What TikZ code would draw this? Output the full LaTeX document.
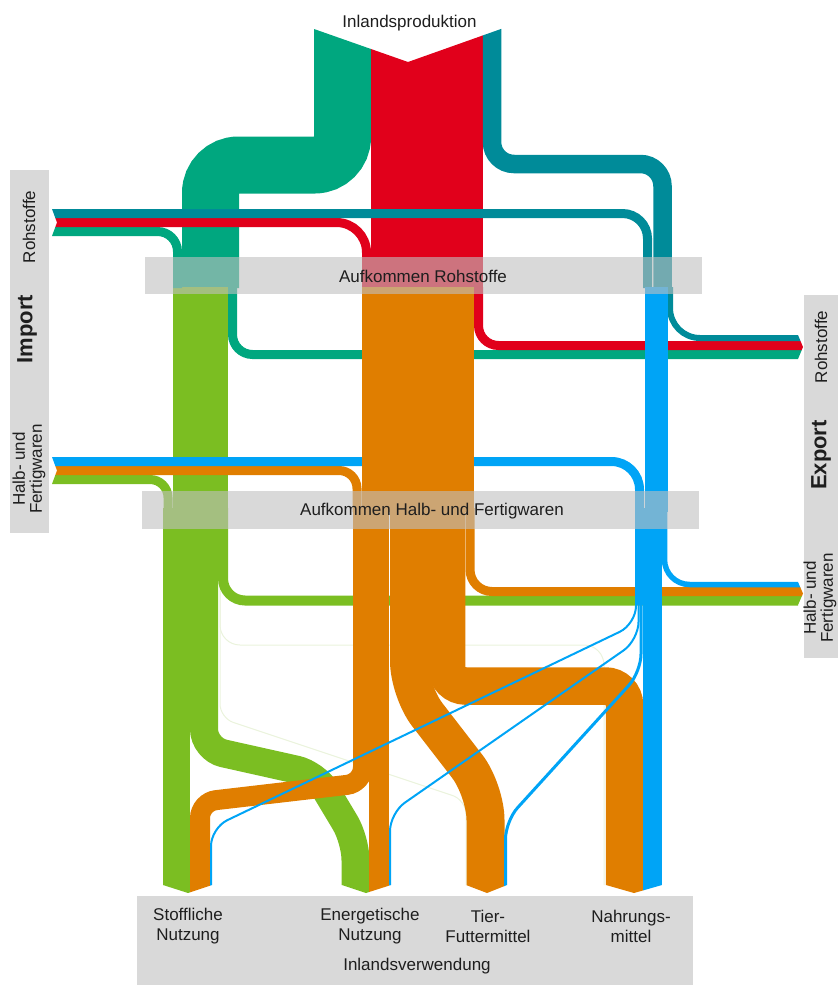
\documentclass[tikz,border=0pt]{standalone}
\usepackage{fontspec}
\setmainfont{Liberation Sans}
\definecolor{tealgreen}{HTML}{00A77F}
\definecolor{rawred}{HTML}{E1001B}
\definecolor{darkteal}{HTML}{008B99}
\definecolor{leafgreen}{HTML}{7BBE22}
\definecolor{amber}{HTML}{E07E00}
\definecolor{skyblue}{HTML}{00A4F6}
\definecolor{panel}{HTML}{D9D9D9}
\definecolor{glassgrey}{HTML}{C0C0C0}
\definecolor{labeltext}{HTML}{1E1E1E}
\definecolor{faintgreen}{HTML}{EAF3DC}
\begin{document}
\begin{tikzpicture}[x=1pt,y=-1pt,
  band/.style={line width=#1pt, line cap=butt},
  lbl/.style={text=labeltext, inner sep=0pt, font=\fontsize{17}{20}\selectfont, align=center},
  sidelbl/.style={text=labeltext, inner sep=0pt, font=\fontsize{17}{17}\selectfont, align=center, rotate=90},
  biglbl/.style={text=labeltext, inner sep=0pt, font=\fontsize{22}{24}\selectfont\bfseries, rotate=90},
  glass/.style={fill=glassgrey, opacity=0.6},
  plate/.style={fill=panel},
]
\useasboundingbox (0,0) rectangle (838,985);

% side and bottom plates
\fill[plate] (10,170) rectangle (49,533);
\fill[plate] (804,295) rectangle (838,658);
\fill[plate] (137,896) rectangle (693,985);

\begin{scope}
% arrow ends: notches on the import side, points on the export and use side
\clip (52,0) -- (310,0) -- (310,27.6) -- (408,62) -- (506,27.2) -- (506,0)
  -- (798,0) -- (798,335) -- (803,347) -- (798,359)
  -- (798,582) -- (803,593.5) -- (798,605) -- (798,885)
  -- (662,885) -- (634,893) -- (606,885)
  -- (507,885) -- (487,893) -- (466,885)
  -- (391,885) -- (366,893) -- (342,885)
  -- (212,885) -- (188,893) -- (163,885)
  -- (52,885) -- (52,484) -- (57,470.5) -- (52,457)
  -- (52,236) -- (57,222.5) -- (52,209) -- cycle;

% very small green streams
\draw[faintgreen, line width=1pt, rounded corners=20pt] (220,508) -- (220,645) -- (604,645) -- (604,900);
\draw[faintgreen, line width=1pt, rounded corners=14pt] (220,508) -- (220,718) -- (466,800) -- (466,900);

% ---- green streams ----
\draw[tealgreen, band=57, rounded corners=28pt] (342.5,15) -- (342.5,165) -- (210.5,165) -- (210.5,288);
\draw[tealgreen, band=9, rounded corners=20pt] (232.5,287) -- (232.5,354.5) -- (810,354.5);
\fill[leafgreen] (173,287) rectangle (228,512);
\draw[leafgreen, band=27] (176.5,508) -- (176.5,900);
\draw[leafgreen, band=28, rounded corners=20pt] (204,508) -- (204,749) -- (316,774) -- (355.5,840) -- (355.5,900);
\draw[leafgreen, band=10, rounded corners=22pt] (223,508) -- (223,600.5) -- (810,600.5);

% ---- red and dark teal streams ----
\fill[rawred] (371,15) rectangle (483,288);
\draw[rawred, band=9, rounded corners=20pt] (478.5,287) -- (478.5,345.5) -- (810,345.5);
\draw[darkteal, band=18.5, rounded corners=22pt] (492,15) -- (492,164) -- (662.5,164) -- (662.5,288);
\draw[darkteal, band=6, rounded corners=30pt] (670,287) -- (670,338) -- (810,338);

% ---- imports: raw materials ----
\draw[tealgreen, band=9, rounded corners=20pt] (40,231.5) -- (177.5,231.5) -- (177.5,288);
\draw[rawred, band=9, rounded corners=30pt] (40,222.5) -- (366.5,222.5) -- (366.5,288);
\draw[darkteal, band=9, rounded corners=25pt] (40,213.5) -- (647.5,213.5) -- (647.5,288);

% ---- imports: semi-finished and finished goods ----
\draw[leafgreen, band=9, rounded corners=18pt] (40,479.5) -- (168,479.5) -- (168,512);
\draw[amber, band=9, rounded corners=18pt] (40,470.5) -- (357,470.5) -- (357,512);
\draw[skyblue, band=9, rounded corners=28pt] (40,461.5) -- (639.5,461.5) -- (639.5,512);

% ---- orange streams ----
\fill[amber] (362,287) rectangle (474,512);
\draw[amber, band=20, rounded corners=16pt] (363,508) -- (363,783) -- (200,802) -- (200,900);
\draw[amber, band=20] (379,508) -- (379,900);
\draw[amber, band=38, rounded corners=30pt] (409,508) -- (409,691) -- (485.5,790) -- (485.5,900);
\draw[amber, band=37.5, rounded corners=19pt] (446.5,508) -- (446.5,686) -- (624.5,686) -- (624.5,900);
\draw[amber, band=9, rounded corners=22pt] (470,508) -- (470,591.5) -- (810,591.5);

% ---- blue streams ----
\fill[skyblue] (645,287) rectangle (668,512);
\fill[skyblue] (635,508) rectangle (643,605);
\draw[skyblue, band=5.5, rounded corners=25pt] (664.5,508) -- (664.5,584.5) -- (810,584.5);
\draw[skyblue, band=19] (652.5,508) -- (652.5,900);
\draw[skyblue, band=2, rounded corners=18pt] (636,508) -- (636,624) -- (211,828) -- (211,900);
\draw[skyblue, band=2, rounded corners=18pt] (638.5,508) -- (638.5,640) -- (390,813) -- (390,900);
\draw[skyblue, band=3, rounded corners=18pt] (641,508) -- (641,672) -- (505.5,821) -- (505.5,900);
\end{scope}

% translucent supply bars
\fill[glass] (145,257) rectangle (702,294);
\fill[glass] (142,491) rectangle (699,529);

% labels
\node[lbl] (inlprod) at (409.5,23) {Inlandsproduktion};
\node[lbl] (aufroh) at (423,276) {Aufkommen Rohstoffe};
\node[lbl] (aufhalb) at (432,511.5) {Aufkommen Halb- und Fertigwaren};

\node[sidelbl] (imroh) at (29,227) {Rohstoffe};
\node[biglbl] (imp) at (27,329) {Import};
\node[sidelbl] (imhalb) at (29,469) {Halb- und\\Fertigwaren};

\node[sidelbl] (exroh) at (821,347) {Rohstoffe};
\node[biglbl] (exp) at (821,455) {Export};
\node[sidelbl] (exhalb) at (820,598) {Halb- und\\Fertigwaren};

\node[lbl] (stoff) at (188,926) {Stoffliche\\Nutzung};
\node[lbl] (energ) at (370,926) {Energetische\\Nutzung};
\node[lbl] (tier) at (488,926) {Tier-\\Futtermittel};
\node[lbl] (nahr) at (631,926) {Nahrungs-\\mittel};
\node[lbl] (inlverw) at (417,966) {Inlandsverwendung};
\end{tikzpicture}
\end{document}
